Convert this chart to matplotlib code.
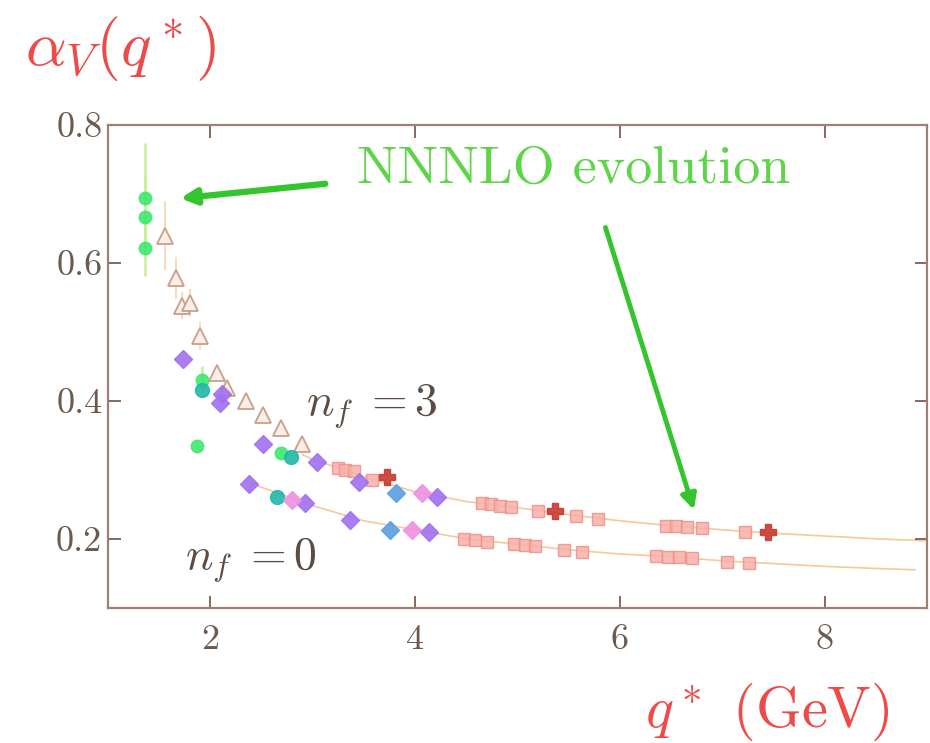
import matplotlib
matplotlib.use("Agg")
import matplotlib.pyplot as plt
import numpy as np

plt.rcParams["mathtext.fontset"] = "cm"
plt.rcParams["font.family"] = ["cmr10", "DejaVu Serif"]
plt.rcParams["axes.unicode_minus"] = False

# ---- data -------------------------------------------------------------
# NNNLO evolution curves (n_f = 3 upper, n_f = 0 lower)
curve3_x = [2.9, 3.0, 3.5, 4.0, 4.5, 5.0, 5.5, 6.0, 6.5, 7.0, 7.5, 8.0, 8.5, 9.0]
curve3_y = [0.322, 0.315, 0.290, 0.268, 0.254, 0.245, 0.235, 0.226, 0.219, 0.213, 0.208, 0.204, 0.200, 0.197]
curve0_x = [2.4, 3.0, 3.5, 4.0, 4.5, 5.0, 5.5, 6.0, 6.5, 7.0, 7.5, 8.0, 8.5, 8.88]
curve0_y = [0.280, 0.248, 0.226, 0.213, 0.200, 0.192, 0.184, 0.178, 0.174, 0.168, 0.164, 0.160, 0.157, 0.155]

# open triangles (n_f = 3, coarse lattices)
tri_x = [1.555, 1.67, 1.72, 1.80, 1.90, 2.07, 2.16, 2.35, 2.51, 2.69, 2.90]
tri_y = [0.639, 0.578, 0.538, 0.542, 0.494, 0.441, 0.419, 0.400, 0.380, 0.361, 0.338]
tri_err = [0.05, 0.03, 0.02, 0.02, 0.02, 0.012, 0.010, 0.008, 0.006, 0.006, 0.005]

# green circles
grn_x = [1.36, 1.36, 1.36, 1.87, 1.92, 2.69]
grn_y = [0.694, 0.667, 0.621, 0.335, 0.430, 0.325]
grn_err = [0.08, 0.06, 0.04, 0.006, 0.02, 0.005]

# teal circles
teal_x = [1.92, 2.65, 2.79]
teal_y = [0.415, 0.260, 0.318]

# purple diamonds
pur_x = [1.73, 2.11, 2.09, 2.51, 3.04, 3.45, 4.21, 2.38, 2.92, 3.36, 4.14]
pur_y = [0.461, 0.410, 0.397, 0.338, 0.311, 0.282, 0.260, 0.280, 0.252, 0.227, 0.210]

# pink diamonds
pink_x = [4.07, 2.80, 3.97]
pink_y = [0.266, 0.256, 0.213]

# blue diamonds
blue_x = [3.81, 3.75]
blue_y = [0.266, 0.213]

# red squares, n_f = 3 row
sq3_x = [3.25, 3.32, 3.40, 3.58, 4.65, 4.74, 4.83, 4.94, 5.20, 5.57, 5.79,
         6.45, 6.55, 6.65, 6.80, 7.22]
sq3_y = [0.302, 0.300, 0.298, 0.285, 0.252, 0.250, 0.248, 0.246, 0.240, 0.233, 0.229,
         0.219, 0.218, 0.217, 0.215, 0.210]
# red squares, n_f = 0 row
sq0_x = [4.48, 4.58, 4.70, 4.97, 5.07, 5.17, 5.45, 5.63, 6.35, 6.47, 6.58, 6.70, 7.05, 7.26]
sq0_y = [0.200, 0.198, 0.196, 0.192, 0.191, 0.189, 0.184, 0.181, 0.175, 0.174, 0.173, 0.172, 0.166, 0.165]

# dark red stars
star_x = [3.73, 5.37, 7.45]
star_y = [0.289, 0.240, 0.210]

# ---- figure -----------------------------------------------------------
fig = plt.figure(figsize=(9.3, 7.43), dpi=100)
ax = fig.add_axes([0.116, 0.182, 0.881, 0.650])

ax.plot(curve3_x, curve3_y, color="#f6c89c", lw=1.2, zorder=1)
ax.plot(curve0_x, curve0_y, color="#f6c89c", lw=1.2, zorder=1)

ax.errorbar(grn_x, grn_y, yerr=grn_err, fmt="o", ms=9, color="#40e870",
            ecolor="#c8f09a", elinewidth=2, alpha=0.9, zorder=3)
ax.errorbar(tri_x, tri_y, yerr=tri_err, fmt="^", ms=11, mfc="#fbeee6",
            mec="#c8a08a", mew=1.3, ecolor="#f3d6b0", elinewidth=1.2, zorder=4)
ax.plot(teal_x, teal_y, "o", ms=10, color="#20b8a8", alpha=0.9, zorder=5)
ax.plot(sq3_x, sq3_y, "s", ms=9, mfc="#f7b0a8", mec="#f09088", alpha=0.85, zorder=3)
ax.plot(sq0_x, sq0_y, "s", ms=9, mfc="#f7b0a8", mec="#f09088", alpha=0.85, zorder=3)
ax.plot(pur_x, pur_y, "D", ms=9, color="#a070f0", alpha=0.9, zorder=5)
ax.plot(pink_x, pink_y, "D", ms=9, color="#ee90e0", alpha=0.9, zorder=5)
ax.plot(blue_x, blue_y, "D", ms=9, color="#5a9ee0", alpha=0.9, zorder=5)
ax.plot(star_x, star_y, "P", ms=12, color="#c83830", alpha=0.9, zorder=6)

ax.set_xlim(1, 9)
ax.set_ylim(0.1, 0.8)
ax.set_xticks([2, 4, 6, 8])
ax.set_xticklabels(["2", "4", "6", "8"])
ax.set_yticks([0.2, 0.4, 0.6, 0.8])
ax.set_yticklabels(["0.2", "0.4", "0.6", "0.8"])

frame_col = "#9e8070"
for s in ax.spines.values():
    s.set_color(frame_col)
    s.set_linewidth(1.6)
ax.tick_params(direction="in", length=9, width=1.3, color="#7a6050",
               top=True, right=True, labelsize=26, labelcolor="#6c5a4c")
ax.tick_params(axis="x", pad=12)
ax.tick_params(axis="y", pad=4)

# annotations
ax.text(5.55, 0.735, "NNNLO evolution", fontsize=39, color="#5ed448",
        ha="center", va="center")
ax.annotate("", xy=(1.68, 0.693), xytext=(3.15, 0.715),
            arrowprops=dict(arrowstyle="-|>,head_length=0.9,head_width=0.45",
                            color="#34c42c", lw=4.5))
ax.annotate("", xy=(6.73, 0.238), xytext=(5.85, 0.655),
            arrowprops=dict(arrowstyle="-|>,head_length=0.9,head_width=0.45",
                            color="#34c42c", lw=3.5))

ax.text(2.93, 0.38, r"$n_f\;=3$", fontsize=33, color="#5c4c42")
ax.text(1.75, 0.158, r"$n_f\;=0$", fontsize=33, color="#5c4c42")

fig.text(0.027, 0.935, r"$\alpha_V(q^*)$", fontsize=46, color="#ee4a4a",
         ha="left", va="center")
fig.text(0.825, 0.042, r"$q^*$ (GeV)", fontsize=42, color="#ee4a4a",
         ha="center", va="center")

fig.savefig("out.png", dpi=100)
